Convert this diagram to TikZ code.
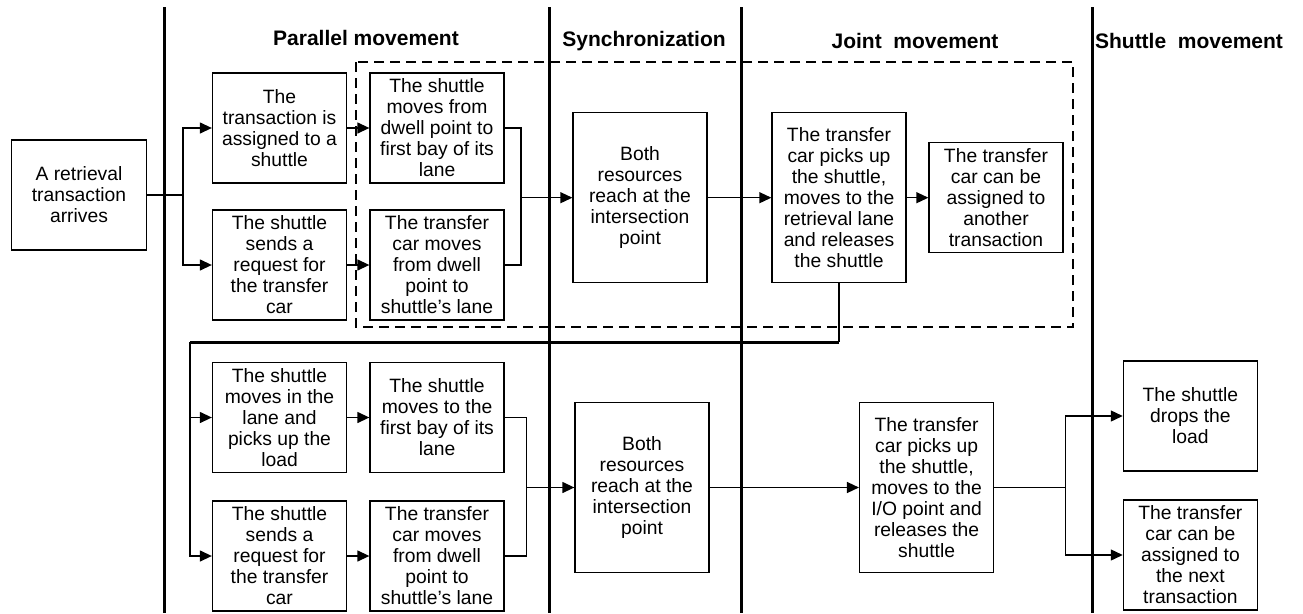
\documentclass[tikz,border=0pt]{standalone}
\usepackage{fontspec}
\setmainfont{Liberation Sans}
\usetikzlibrary{arrows.meta}
\begin{document}
\begin{tikzpicture}[x=1pt,y=-1pt,
  box/.style={draw, line width=1.3pt, align=center, inner sep=0pt,
    minimum width=134pt, minimum height=110pt,
    font=\fontsize{19.3}{21}\selectfont},
  tallbox/.style={box, minimum height=170pt},
  lane/.style={line width=3pt},
  conn/.style={line width=1.3pt},
  arr/.style={conn, -{Triangle[length=12pt,width=11pt]}},
  title/.style={font=\bfseries\fontsize{21}{25}\selectfont, inner sep=0pt}]
\useasboundingbox (0,0) rectangle (1303,613);
% lanes
\draw[lane] (164,7) -- (164,613);
\draw[lane] (549,7) -- (549,613);
\draw[lane] (741,7) -- (741,613);
\draw[lane] (1092,7) -- (1092,613);
% titles
\node[title] (t1) at (366,38) {Parallel movement};
\node[title] (t2) at (644,41) {Synchronization};
\node[title] (t3) at (915,41) {Joint\ \ movement};
\node[title] (t4) at (1189,41) {Shuttle\ \ movement};
% dashed box
\draw[line width=1.5pt, dash pattern=on 10pt off 6pt] (356,62) rectangle (1073,327);
% nodes
\node[box, minimum width=135pt] (A) at (79,195) {A retrieval\\transaction\\arrives};
\node[box] (B1) at (279.5,128) {The\\transaction is\\assigned to a\\shuttle};
\node[box] (B2) at (279.5,265) {The shuttle\\sends a\\request for\\the transfer\\car};
\node[box] (B3) at (437,128) {The shuttle\\moves from\\dwell point to\\first bay of its\\lane};
\node[box] (B4) at (437,265) {The transfer\\car moves\\from dwell\\point to\\shuttle's lane};
\node[tallbox] (S1) at (640,197.7) {Both\\resources\\reach at the\\intersection\\point};
\node[tallbox] (J1) at (839,197.7) {The transfer\\car picks up\\the shuttle,\\moves to the\\retrieval lane\\and releases\\the shuttle};
\node[box] (J2) at (996,197.7) {The transfer\\car can be\\assigned to\\another\\transaction};
\node[box] (C1) at (279.5,417.5) {The shuttle\\moves in the\\lane and\\picks up the\\load};
\node[box] (C2) at (437,417.5) {The shuttle\\moves to the\\first bay of its\\lane};
\node[box] (C3) at (279.5,556) {The shuttle\\sends a\\request for\\the transfer\\car};
\node[box] (C4) at (437,556) {The transfer\\car moves\\from dwell\\point to\\shuttle's lane};
\node[tallbox] (S2) at (642,487.5) {Both\\resources\\reach at the\\intersection\\point};
\node[tallbox] (J3) at (926.6,487.5) {The transfer\\car picks up\\the shuttle,\\moves to the\\I/O point and\\releases the\\shuttle};
\node[box] (D1) at (1190.4,416) {The shuttle\\drops the\\load};
\node[box] (D2) at (1190.4,555) {The transfer\\car can be\\assigned to\\the next\\transaction};
% junction coordinates
\coordinate (s1) at (183,195);
\coordinate (m1) at (521,197.7);
\coordinate (k1) at (839,342);
\coordinate (k2) at (190,342);
\coordinate (m2) at (526.4,487.5);
\coordinate (m3) at (1065.5,487.5);
% connectors
\draw[conn] (A.east) -- (s1);
\draw[arr] (s1) |- (B1.west);
\draw[arr] (s1) |- (B2.west);
\draw[arr] (B1.east) -- (B3.west);
\draw[arr] (B2.east) -- (B4.west);
\draw[conn] (B3.east) -| (m1);
\draw[conn] (B4.east) -| (m1);
\draw[arr] (m1) -- (S1.west);
\draw[arr] (S1.east) -- (J1.west);
\draw[arr] (J1.east) -- (J2.west);
\draw[conn] (J1.south) -- (k1);
\draw[lane] (k1) -- (k2);
\draw[arr] (k2) |- (C1.west);
\draw[arr] (k2) |- (C3.west);
\draw[arr] (C1.east) -- (C2.west);
\draw[arr] (C3.east) -- (C4.west);
\draw[conn] (C2.east) -| (m2);
\draw[conn] (C4.east) -| (m2);
\draw[arr] (m2) -- (S2.west);
\draw[arr] (S2.east) -- (J3.west);
\draw[conn] (J3.east) -- (m3);
\draw[arr] (m3) |- (D1.west);
\draw[arr] (m3) |- (D2.west);
\end{tikzpicture}
\end{document}
